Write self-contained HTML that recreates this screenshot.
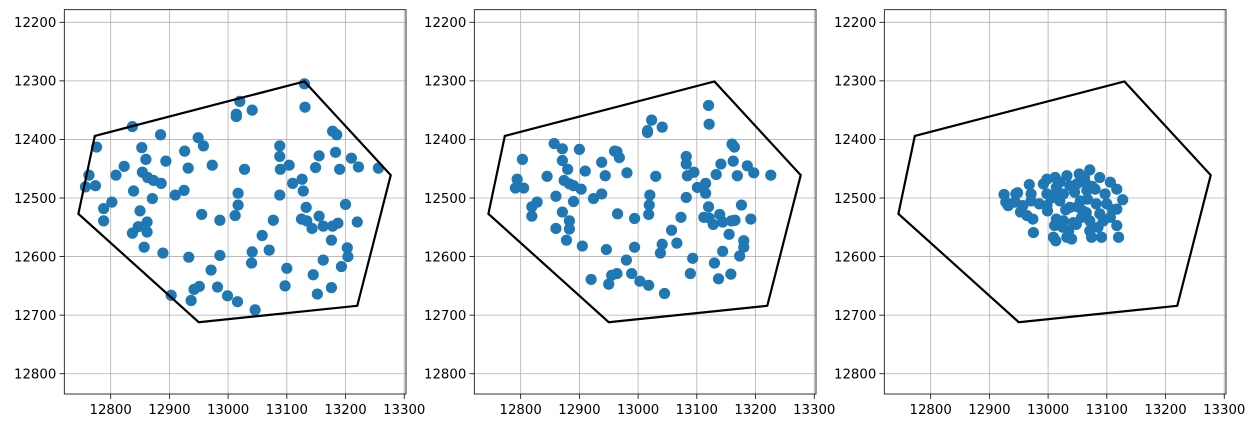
<!DOCTYPE html>
<html><head><meta charset="utf-8"><style>
html,body{margin:0;padding:0;background:#fff;}
svg{display:block;font-family:"DejaVu Sans","Liberation Sans",sans-serif;}
</style></head><body>
<svg id="fig" width="1256" height="428" viewBox="0 0 1256 428" xmlns="http://www.w3.org/2000/svg"></svg>
<script>
const xTicks=[12800,12900,13000,13100,13200,13300];
const yTicks=[12200,12300,12400,12500,12600,12700,12800];
const hullX=[12773,13130,13277,13220,12950,12745];
const hullY=[12394,12301,12461,12684,12712,12527];
const p1x=[13130,13131,13020,13041,13014,13014,12837,12885,12949,12958,12776,12853,12926,12860,12894,12823,12932,12973,13028,12809,12763,12854,12863,12873,12886,12757,12774,12839,12925,12910,12871,12802,12788,12850,12788,12862,12847,12837,12862,12857,12889,12955,12986,13017,13017,13012,13088,13088,13089,13104,13110,13088,13126,13128,13133,13125,13134,13143,13155,13162,13149,13155,13178,13185,13183,13190,13210,13222,13256,13200,13220,13178,13187,13176,13077,13058,13070,13041,13040,13100,13097,13145,13162,13203,13204,13193,13152,13176,13046,13016,12999,12982,12971,12933,12986,12951,12942,12937,12903];
const p1y=[12305,12345,12335,12350,12357,12361,12378,12392,12397,12411,12413,12414,12420,12434,12437,12446,12449,12444,12451,12461,12461,12456,12465,12470,12475,12481,12479,12488,12487,12495,12501,12507,12518,12522,12539,12541,12549,12560,12558,12584,12594,12528,12538,12492,12512,12530,12411,12429,12451,12444,12475,12495,12468,12488,12516,12536,12539,12552,12531,12548,12448,12428,12386,12392,12422,12451,12432,12447,12449,12511,12541,12548,12543,12572,12538,12564,12589,12592,12611,12620,12650,12631,12606,12585,12600,12617,12664,12653,12691,12677,12667,12652,12623,12601,12598,12651,12656,12675,12666];
const p2x=[13120,13121,13023,13016,13016,13041,12857,12871,12900,12960,12964,12968,12803,12871,12880,12910,12938,12944,12981,13030,12845,12794,12791,12805,12874,12883,12890,12903,12924,12938,12860,12890,12828,12819,12819,12871,12883,12883,12860,12878,12905,12946,12965,12994,13020,13019,13018,12994,12980,12989,12964,12955,12950,12920,13003,13018,13045,13038,13041,13057,13066,13073,13082,13082,13084,13095,13101,13082,13115,13115,13120,13112,13121,13128,13139,13144,13133,13141,13160,13164,13162,13169,13186,13197,13226,13176,13192,13159,13165,13155,13180,13180,13173,13093,13089,13130,13144,13137,13158];
const p2y=[12342,12374,12367,12385,12388,12379,12407,12416,12417,12420,12421,12431,12434,12436,12451,12454,12439,12462,12457,12463,12463,12468,12483,12483,12470,12476,12479,12485,12501,12493,12497,12506,12507,12515,12531,12524,12539,12553,12552,12572,12582,12588,12527,12535,12495,12512,12528,12584,12606,12629,12629,12632,12647,12639,12642,12649,12663,12594,12579,12555,12577,12533,12429,12442,12462,12456,12482,12499,12475,12492,12515,12533,12534,12545,12528,12541,12460,12442,12408,12413,12437,12462,12445,12457,12461,12512,12536,12539,12538,12562,12573,12584,12599,12603,12629,12611,12591,12638,12630];
const p3x=[12925,12928,12932,12945,12948,12944,12957,12953,12964,12974,12968,12971,12971,12975,12992,12998,12998,12998,12999,13012,13014,13008,13020,13014,13026,13011,13009,13013,13032,13037,13026,13037,13053,13049,13063,13071,13066,13067,13059,13043,13035,13032,13040,13071,13071,13074,13088,13082,13088,13094,13091,13097,13106,13117,13127,13117,13117,13120,13106,13100,13057,13020,13045,13030,13055,13080,13062,13025,13048,13085,13075,13005,12985,13110,13050,13065];
const p3y=[12494,12507,12513,12493,12491,12507,12513,12524,12530,12536,12477,12493,12505,12559,12476,12468,12493,12513,12522,12465,12482,12496,12505,12536,12539,12547,12567,12573,12462,12479,12493,12516,12459,12476,12473,12452,12487,12502,12522,12542,12556,12567,12570,12539,12556,12567,12465,12510,12527,12539,12567,12493,12473,12485,12503,12519,12547,12567,12533,12510,12533,12473,12490,12520,12505,12485,12465,12550,12545,12550,12480,12500,12510,12520,12515,12525];

const NS="http://www.w3.org/2000/svg";
const svg=document.getElementById('fig');
const X0=12721,X1=13303,Y0=12178.5,Y1=12834.6;
const TOP=9.7,H=384.3,W=341.7;
function mk(tag,attrs,parent){const e=document.createElementNS(NS,tag);for(const k in attrs)e.setAttribute(k,attrs[k]);parent.appendChild(e);return e;}
const panels=[[p1x,p1y],[p2x,p2y],[p3x,p3y]];
panels.forEach((pd,i)=>{
  const L=64.3+410*i;
  const sx=v=>L+(v-X0)/(X1-X0)*W;
  const sy=v=>TOP+(v-Y0)/(Y1-Y0)*H;
  const g=mk('g',{},svg);
  
  
  mk('rect',{x:L,y:TOP,width:W,height:H,fill:'#fff'},g);
  xTicks.forEach(t=>{
    const x=sx(t);
    const gl=mk('line',{x1:x,x2:x,y1:TOP,y2:TOP+H,stroke:'#b0b0b0','stroke-width':0.8},g);
    
    
    mk('line',{x1:x,x2:x,y1:TOP+H,y2:TOP+H+4.9,stroke:'#000','stroke-width':0.8},g);
    const tx=mk('text',{x:x,y:TOP+H+20,'font-size':13.3,'text-anchor':'middle',fill:'#000'},g);
    tx.textContent=t;
    
    
  });
  yTicks.forEach(t=>{
    const y=sy(t);
    const gl=mk('line',{x1:L,x2:L+W,y1:y,y2:y,stroke:'#b0b0b0','stroke-width':0.8},g);
    
    
    mk('line',{x1:L-4.9,x2:L,y1:y,y2:y,stroke:'#000','stroke-width':0.8},g);
    const tx=mk('text',{x:L-8,y:y+4.8,'font-size':13.3,'text-anchor':'end',fill:'#000'},g);
    tx.textContent=t;
    
    
  });
  const [xs,ys]=pd;
  xs.forEach((v,k)=>{
    const c=mk('circle',{cx:sx(v),cy:sy(ys[k]),r:5.6,fill:'#1f77b4'},g);
    
    
  });
  const pts=hullX.map((v,k)=>sx(v)+','+sy(hullY[k])).join(' ');
  const pg=mk('polygon',{points:pts,fill:'none',stroke:'#000','stroke-width':2.2},g);
  
  
  const fr=mk('rect',{x:L,y:TOP,width:W,height:H,fill:'none',stroke:'#000','stroke-width':0.8},g);
  
  
});
</script>
</body></html>
